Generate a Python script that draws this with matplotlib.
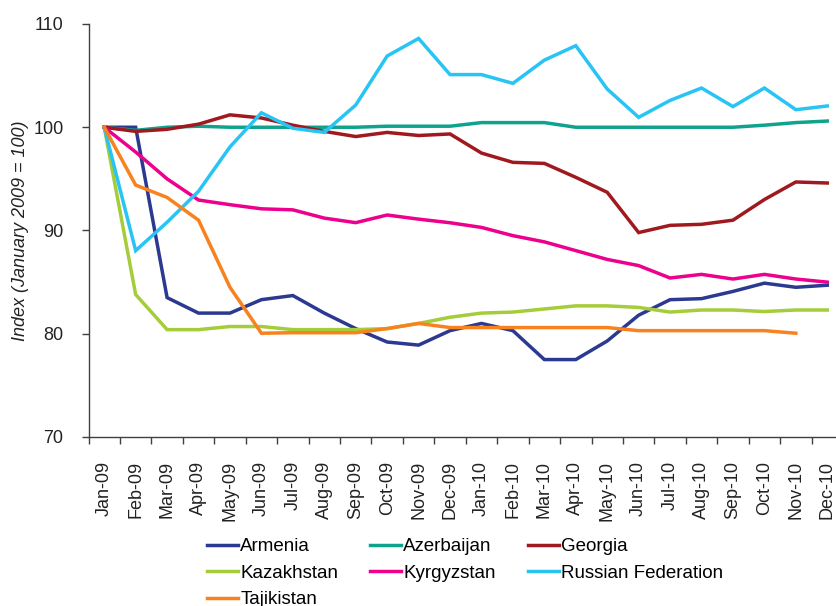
import numpy as np
import matplotlib
matplotlib.use("Agg")
import matplotlib.pyplot as plt

months = ["Jan-09", "Feb-09", "Mar-09", "Apr-09", "May-09", "Jun-09", "Jul-09", "Aug-09",
          "Sep-09", "Oct-09", "Nov-09", "Dec-09", "Jan-10", "Feb-10", "Mar-10", "Apr-10",
          "May-10", "Jun-10", "Jul-10", "Aug-10", "Sep-10", "Oct-10", "Nov-10", "Dec-10"]

armenia = [100, 100, 83.5, 82.0, 82.0, 83.3, 83.7, 82.0, 80.5, 79.2, 78.9, 80.3,
           81.0, 80.3, 77.5, 77.5, 79.3, 81.8, 83.3, 83.4, 84.1, 84.9, 84.5, 84.7]
azerbaijan = [100, 99.7, 100.0, 100.1, 100.0, 100.0, 100.0, 100.0, 100.0, 100.1, 100.1, 100.1,
              100.45, 100.45, 100.45, 100.0, 100.0, 100.0, 100.0, 100.0, 100.0, 100.2, 100.45, 100.6]
georgia = [100, 99.6, 99.8, 100.3, 101.2, 100.9, 100.2, 99.6, 99.1, 99.5, 99.2, 99.35,
           97.5, 96.6, 96.5, 95.15, 93.7, 89.8, 90.5, 90.6, 91.0, 93.0, 94.7, 94.6]
kazakhstan = [100, 83.8, 80.4, 80.4, 80.7, 80.7, 80.4, 80.4, 80.4, 80.5, 81.0, 81.6,
              82.0, 82.1, 82.4, 82.7, 82.7, 82.55, 82.1, 82.3, 82.3, 82.15, 82.3, 82.3]
kyrgyzstan = [100, 97.6, 95.0, 92.95, 92.5, 92.1, 92.0, 91.2, 90.76, 91.5, 91.1, 90.75,
              90.3, 89.5, 88.9, 88.05, 87.2, 86.6, 85.4, 85.75, 85.3, 85.75, 85.3, 85.0]
russia = [100, 88.05, 90.8, 93.8, 98.1, 101.4, 99.9, 99.5, 102.15, 106.9, 108.6, 105.1,
          105.1, 104.25, 106.5, 107.9, 103.7, 100.96, 102.6, 103.8, 102.0, 103.8, 101.7, 102.06]
tajikistan = [100, 94.4, 93.2, 91.0, 84.5, 80.05, 80.1, 80.1, 80.1, 80.5, 81.0, 80.6,
              80.6, 80.6, 80.6, 80.6, 80.6, 80.3, 80.3, 80.3, 80.3, 80.3, 80.05, np.nan]

series = [
    ("Armenia", armenia, "#2B3990"),
    ("Azerbaijan", azerbaijan, "#0FA38E"),
    ("Georgia", georgia, "#A0191F"),
    ("Kazakhstan", kazakhstan, "#A5CD39"),
    ("Kyrgyzstan", kyrgyzstan, "#EC008C"),
    ("Russian Federation", russia, "#27C4F4"),
    ("Tajikistan", tajikistan, "#F7821E"),
]

yticks = [70, 80, 90, 100, 110]

plt.rcParams['font.family'] = ['Liberation Sans', 'DejaVu Sans']

fig = plt.figure(figsize=(8.36, 6.06), dpi=100)
W, H = 836, 606
left, right, top, bottom = 88.5, 843, 24, 437
ax = fig.add_axes([left / W, 1 - bottom / H, (right - left) / W, (bottom - top) / H])

x = np.arange(len(months))
handles = {}
for name, vals, col in series:
    h, = ax.plot(x, vals, color=col, lw=2.5, solid_joinstyle='miter', label=name)
    handles[name] = h

ax.set_xlim(-0.5, len(months) - 0.5)
ax.set_ylim(70, 110)
ax.set_yticks(yticks)
ax.tick_params(axis='y', direction='out', length=5, width=1, pad=13, labelsize=13,
               labelcolor='#222222', color='#404040')
ax.set_xticks(x)
ax.set_xticklabels(months, rotation=90, fontsize=13, color='#222222')
ax.tick_params(axis='x', which='major', length=0, pad=17)
ax.set_xticks(np.arange(-0.5, len(months)), minor=True)
ax.tick_params(axis='x', which='minor', direction='out', length=5, width=1, color='#404040')
for s in ['top', 'right']:
    ax.spines[s].set_visible(False)
for s in ['left', 'bottom']:
    ax.spines[s].set_color('#404040')
    ax.spines[s].set_linewidth(1)

ax.set_ylabel("Index (January 2009 = 100)", fontsize=13, style='italic', color='#222222')
ax.yaxis.set_label_coords((29 - left) / (right - left), 0.5)

order = ["Armenia", "Kazakhstan", "Tajikistan", "Azerbaijan", "Kyrgyzstan", "Georgia",
         "Russian Federation"]
fig.legend([handles[n] for n in order], order, ncol=3, loc='upper left',
           bbox_to_anchor=(207 / W, 1 - 538 / H), frameon=False, fontsize=13.5,
           handlelength=1.65, handletextpad=0.12, columnspacing=1.7, labelspacing=0.5,
           borderpad=0, borderaxespad=0)

fig.savefig("out.png", dpi=100)
